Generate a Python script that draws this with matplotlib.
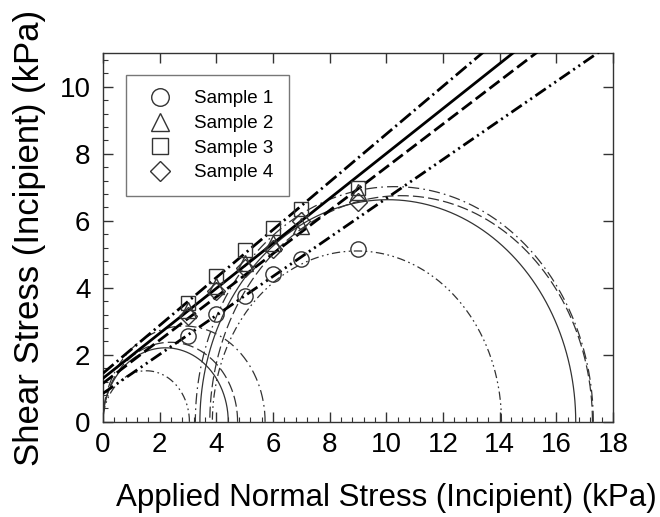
import numpy as np
import matplotlib
matplotlib.use("Agg")
import matplotlib.pyplot as plt
from matplotlib.ticker import MultipleLocator

plt.rcParams['font.family'] = ['Liberation Sans', 'DejaVu Sans']
plt.rcParams['lines.scale_dashes'] = False

# direct shear points (applied normal stress vs shear stress, kPa)
normal = [3, 4, 5, 6, 7, 9]
s1 = [2.57, 3.22, 3.77, 4.41, 4.86, 5.16]
s2 = [3.35, 4.05, 4.75, 5.35, 5.85, 6.85]
s3 = [3.54, 4.36, 5.13, 5.78, 6.35, 6.97]
s4 = [3.15, 3.90, 4.60, 5.15, 6.00, 6.55]

# failure envelopes: intercept (kPa), slope
env_c = [0.85, 1.30, 1.45, 1.15]
env_m = [0.582, 0.671, 0.714, 0.645]

# Mohr circles: (sigma3, sigma1) pairs, small and large per sample
circ_lo = [[0.0, 3.86], [0.0, 3.42], [0.0, 3.26], [0.0, 3.77]]
circ_hi = [[3.05, 14.06], [4.42, 16.68], [5.72, 17.30], [4.75, 17.27]]

labels = ['Sample 1', 'Sample 2', 'Sample 3', 'Sample 4']
markers = ['o', '^', 's', 'D']
env_dash = [(0, (9, 3, 1.5, 3, 1.5, 3)), '-', (0, (10, 3, 1.5, 3)), (0, (9, 3.5))]
circ_dash = [(0, (6, 2.5, 1.2, 2.5, 1.2, 2.5)), '-', (0, (8, 3, 1.2, 3)), (0, (8, 3))]

fig = plt.figure(figsize=(6.6, 5.17), dpi=100)
ax = fig.add_axes([0.156, 0.184, 0.773, 0.713])

xx = np.linspace(0, 18, 200)
for i in range(4):
    ax.plot(xx, env_c[i] + env_m[i] * xx, color='black', lw=2.0, linestyle=env_dash[i], zorder=3)

t = np.linspace(0, np.pi, 300)
for i in range(4):
    for a, b in [(circ_lo[i][0], circ_hi[i][0]), (circ_lo[i][1], circ_hi[i][1])]:
        c = (a + b) / 2
        r = (b - a) / 2
        ax.plot(c + r * np.cos(t), r * np.sin(t), color='#333333', lw=0.9,
                linestyle=circ_dash[i], zorder=2)

for ys, mk, lab in zip([s1, s2, s3, s4], markers, labels):
    ms = {'o': 11, '^': 11, 's': 10, 'D': 9}[mk]
    ax.plot(normal, ys, linestyle='none', marker=mk, markersize=ms,
            markerfacecolor='none', markeredgecolor='#333333', markeredgewidth=1.0,
            label=lab, zorder=4)

ax.set_xlim(0, 18)
ax.set_ylim(0, 11)
ax.xaxis.set_major_locator(MultipleLocator(2))
ax.xaxis.set_minor_locator(MultipleLocator(0.4))
ax.yaxis.set_major_locator(MultipleLocator(2))
ax.yaxis.set_minor_locator(MultipleLocator(0.4))
ax.tick_params(which='both', direction='in', top=True, right=True, labelsize=20, color='#333333')
ax.tick_params(which='major', length=7, width=1)
ax.tick_params(which='minor', length=3.5, width=0.8, top=False, right=False)
ax.tick_params(axis='x', pad=7)
ax.tick_params(axis='y', pad=9)
for sp in ax.spines.values():
    sp.set_color('#333333')
    sp.set_linewidth(1.0)

ax.set_xlabel('Applied Normal Stress (Incipient) (kPa)', fontsize=22.5)
ax.xaxis.set_label_coords(0.555, -0.165)
ax.set_ylabel('Shear Stress (Incipient) (kPa)', fontsize=25, labelpad=10)

leg = ax.legend(loc='upper left', bbox_to_anchor=(0.045, 0.94), borderaxespad=0,
                fontsize=13.5, frameon=True, fancybox=False, edgecolor='#555555',
                handletextpad=0.85, borderpad=0.8, labelspacing=0.4, handlelength=2.0,
                markerscale=1.15)
leg.get_frame().set_linewidth(1.0)

fig.savefig('out.png', dpi=100)
